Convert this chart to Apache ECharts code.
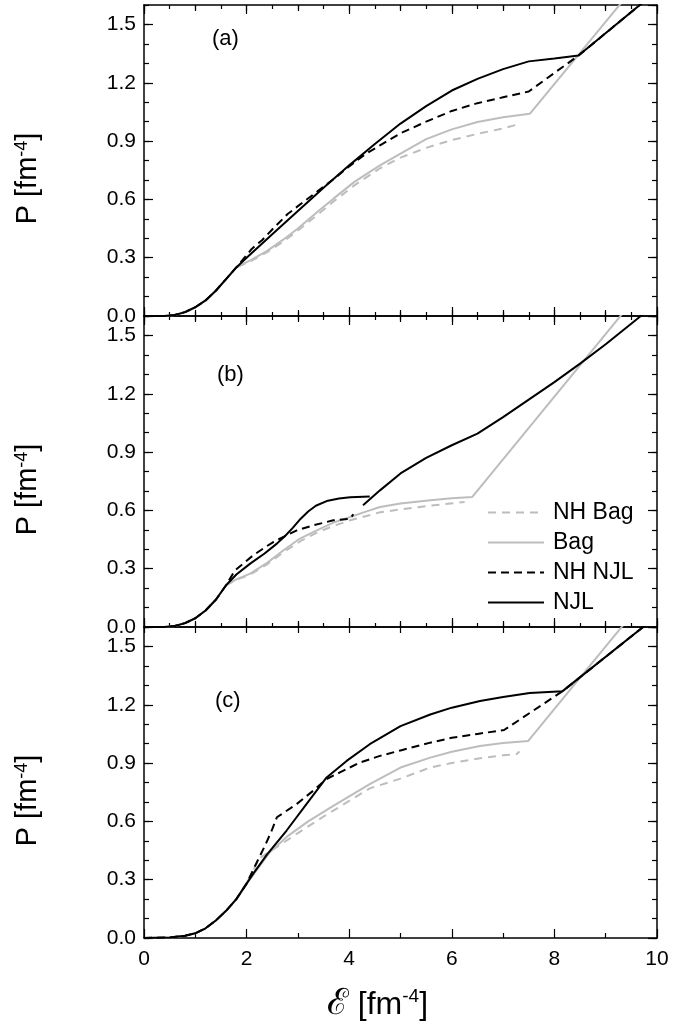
<!DOCTYPE html>
<html>
<head>
<meta charset="utf-8">
<script src="https://cdn.jsdelivr.net/npm/echarts@6/dist/echarts.min.js"></script>
<style>
  html, body { margin: 0; padding: 0; background: #fff; }
  #chart { width: 673px; height: 1030px; }
</style>
</head>
<body>
<div id="chart"></div>
<script>
const FONT = '"Liberation Sans", Arial, Helvetica, sans-serif';

// ---- panel (a) ----
const aLowX = [0, 0.4, 0.6, 0.8, 1.0, 1.2, 1.4, 1.6, 1.8];
const aLowY = [0, 0, 0.005, 0.02, 0.045, 0.08, 0.13, 0.19, 0.25];
const aNJLX = [2.0, 2.5, 3.0, 3.5, 4.0, 4.5, 5.0, 5.5, 6.0, 6.5, 7.0, 7.5, 8.0, 8.47, 10];
const aNJLY = [0.3, 0.42, 0.54, 0.66, 0.775, 0.885, 0.99, 1.08, 1.16, 1.22, 1.27, 1.31, 1.325, 1.34, 1.673];
const aNHNJLX = [2.1, 2.3, 2.5, 2.8, 3.1, 3.4, 3.7, 4.0, 4.3, 4.6, 5.0, 5.5, 6.0, 6.5, 7.0, 7.5, 8.47, 10];
const aNHNJLY = [0.345, 0.39, 0.445, 0.525, 0.585, 0.645, 0.705, 0.77, 0.83, 0.878, 0.94, 1.0, 1.055, 1.095, 1.125, 1.155, 1.34, 1.673];
const aBagX = [2.1, 2.4, 2.7, 3.0, 3.4, 3.7, 4.1, 4.6, 5.0, 5.5, 6.0, 6.5, 7.0, 7.52, 10];
const aBagY = [0.29, 0.335, 0.39, 0.45, 0.54, 0.605, 0.69, 0.775, 0.835, 0.91, 0.96, 0.998, 1.022, 1.04, 1.834];
const aNHBagX = [2.1, 2.4, 2.7, 3.0, 3.4, 3.7, 4.1, 4.6, 5.0, 5.5, 6.0, 6.5, 7.0, 7.35];
const aNHBagY = [0.285, 0.328, 0.38, 0.44, 0.525, 0.59, 0.672, 0.76, 0.815, 0.865, 0.905, 0.937, 0.965, 0.99];

// ---- panel (b) ----
const bLowX = [0, 0.4, 0.6, 0.8, 1.0, 1.2, 1.4, 1.6];
const bLowY = [0, 0, 0.005, 0.02, 0.045, 0.085, 0.14, 0.215];
const bNJLX = [1.8, 2.07, 2.35, 2.59, 2.75, 2.9, 3.05, 3.2, 3.35, 3.56, 3.8, 4.02, 4.4];
const bNJLY = [0.27, 0.326, 0.378, 0.429, 0.468, 0.51, 0.556, 0.594, 0.624, 0.648, 0.661, 0.668, 0.672];
const bNJL2X = [4.27, 4.6, 5.0, 5.5, 6.0, 6.5, 7.0, 7.5, 8.0, 8.5, 9.0, 9.66, 10];
const bNJL2Y = [0.626, 0.703, 0.79, 0.87, 0.935, 0.995, 1.08, 1.17, 1.26, 1.355, 1.455, 1.595, 1.67];
const bNHNJLX = [1.77, 1.95, 2.13, 2.33, 2.52, 2.72, 2.98, 3.3, 3.69, 4.02, 4.08];
const bNHNJLY = [0.29, 0.33, 0.369, 0.405, 0.437, 0.464, 0.497, 0.523, 0.549, 0.557, 0.58];
const bBagX = [1.8, 2.07, 2.4, 2.72, 3.04, 3.37, 3.69, 4.02, 4.34, 4.6, 5.0, 5.58, 6.0, 6.4, 10];
const bBagY = [0.245, 0.275, 0.33, 0.395, 0.455, 0.497, 0.537, 0.566, 0.595, 0.617, 0.635, 0.652, 0.662, 0.669, 1.83];
const bNHBagX = [1.8, 2.07, 2.4, 2.72, 3.04, 3.37, 3.69, 4.02, 4.6, 5.0, 5.6, 6.25];
const bNHBagY = [0.243, 0.27, 0.322, 0.385, 0.44, 0.485, 0.52, 0.549, 0.59, 0.605, 0.625, 0.643];

// ---- panel (c) ----
const cLowX = [0, 0.5, 0.8, 1.0, 1.2, 1.4, 1.6, 1.8, 2.0];
const cLowY = [0, 0.003, 0.012, 0.024, 0.05, 0.09, 0.14, 0.2, 0.28];
const cNJLX = [2.13, 2.4, 2.78, 3.17, 3.56, 3.95, 4.4, 5.0, 5.58, 6.0, 6.55, 7.0, 7.52, 8.16, 10];
const cNJLY = [0.331, 0.43, 0.553, 0.69, 0.826, 0.911, 0.997, 1.09, 1.15, 1.185, 1.219, 1.24, 1.261, 1.27, 1.657];
const cNHNJLX = [2.2, 2.36, 2.49, 2.59, 2.98, 3.3, 3.56, 3.82, 4.21, 4.6, 5.0, 5.58, 6.0, 6.5, 7.02, 8.16, 10];
const cNHNJLY = [0.39, 0.476, 0.553, 0.621, 0.69, 0.758, 0.818, 0.852, 0.903, 0.937, 0.965, 1.005, 1.03, 1.05, 1.07, 1.27, 1.657];
const cBagX = [2.2, 2.45, 2.78, 3.2, 3.69, 4.4, 5.0, 5.58, 6.0, 6.55, 7.0, 7.49, 10];
const cBagY = [0.35, 0.44, 0.52, 0.6, 0.68, 0.792, 0.877, 0.928, 0.958, 0.988, 1.003, 1.014, 1.822];
const cNHBagX = [2.25, 2.6, 3.0, 3.5, 4.0, 4.4, 5.0, 5.58, 6.0, 6.55, 7.0, 7.26, 7.32];
const cNHBagY = [0.41, 0.47, 0.54, 0.625, 0.705, 0.77, 0.82, 0.877, 0.9, 0.925, 0.94, 0.945, 0.96];

const legendNames = ['NH Bag', 'Bag', 'NH NJL', 'NJL'];
const panelLabels = ['(a)', '(b)', '(c)'];

const lineLook = {
  'NH Bag': { color: '#bdbdbd', type: [8, 6] },
  'Bag': { color: '#bdbdbd', type: 'solid' },
  'NH NJL': { color: '#000', type: [8, 5] },
  'NJL': { color: '#000', type: 'solid' }
};

const pts = (xs, ys) => xs.map((x, i) => [x, ys[i]]);

const gridTops = [5, 316, 627];
const GRID_H = 311;

// axes
const xAxes = [];
const yAxes = [];
const xBase = [];
const yBase = [];
const axisLine = { show: true, onZero: false, lineStyle: { color: '#000', width: 1.5 } };
const tickLine = { color: '#000', width: 1.2 };

for (let p = 0; p < 3; p++) {
  xBase.push(xAxes.length);
  const last = p === 2;
  // bottom main
  xAxes.push({
    type: 'value', gridIndex: p, position: 'bottom', min: 0, max: 10, interval: 2,
    axisLine: axisLine,
    axisTick: { inside: true, length: 9, lineStyle: tickLine },
    minorTick: { show: true, splitNumber: last ? 2 : 4, length: last ? 5 : 4, lineStyle: tickLine },
    splitLine: { show: false },
    axisLabel: { show: last, margin: 11, fontSize: 21, fontFamily: FONT, color: '#000' },
    name: last ? '{e|ℰ} [fm{sup|-4}]' : '',
    nameLocation: 'middle', nameGap: 49,
    nameTextStyle: {
      fontSize: 32, fontFamily: FONT, color: '#000', padding: [0, 46, 0, 0],
      rich: {
        e: { fontSize: 36, fontFamily: '"DejaVu Serif", serif', color: '#000' },
        sup: { fontSize: 19, verticalAlign: 'top', color: '#000', fontFamily: FONT }
      }
    }
  });
  if (!last) {
    xAxes.push({
      type: 'value', gridIndex: p, position: 'bottom', min: 0, max: 10, interval: 1,
      axisLine: { show: false, onZero: false },
      axisTick: { inside: true, length: 6, lineStyle: tickLine },
      splitLine: { show: false }, axisLabel: { show: false }
    });
  }
  // top
  xAxes.push({
    type: 'value', gridIndex: p, position: 'top', min: 0, max: 10, interval: last ? 1 : 2,
    axisLine: axisLine,
    axisTick: { inside: true, length: last ? 6 : 9, lineStyle: tickLine },
    minorTick: { show: !last, splitNumber: 4, length: 4, lineStyle: tickLine },
    splitLine: { show: false }, axisLabel: { show: false }
  });
  if (!last) {
    xAxes.push({
      type: 'value', gridIndex: p, position: 'top', min: 0, max: 10, interval: 1,
      axisLine: { show: false, onZero: false },
      axisTick: { inside: true, length: 6, lineStyle: tickLine },
      splitLine: { show: false }, axisLabel: { show: false }
    });
  }

  yBase.push(yAxes.length);
  ['left', 'right'].forEach(function (side) {
    yAxes.push({
      type: 'value', gridIndex: p, position: side, min: 0, max: 1.6, interval: 0.3,
      axisLine: axisLine,
      axisTick: { inside: true, length: 9, lineStyle: tickLine },
      splitLine: { show: false },
      axisLabel: {
        show: side === 'left', margin: 8, fontSize: 21, fontFamily: FONT, color: '#000',
        showMaxLabel: false,
        formatter: function (v) { return v > 1.55 ? '' : v.toFixed(1); }
      },
      name: side === 'left' ? 'P [fm{sup|-4}]' : '',
      nameLocation: 'middle', nameGap: 102,
      nameTextStyle: {
        fontSize: 29, fontFamily: FONT, color: '#000', padding: [0, 36, 0, 0],
        rich: { sup: { fontSize: 18, verticalAlign: 'top', color: '#000', fontFamily: FONT } }
      }
    });
    yAxes.push({
      type: 'value', gridIndex: p, position: side, min: 0, max: 1.6, interval: 0.1,
      axisLine: { show: false, onZero: false },
      axisTick: { inside: true, length: 5, lineStyle: tickLine },
      splitLine: { show: false }, axisLabel: { show: false }
    });
  });
}

const series = [];
function addLine(name, p, low, xs, ys) {
  const data = (low ? pts(low[0], low[1]) : []).concat(pts(xs, ys));
  series.push({
    name: name, type: 'line', xAxisIndex: xBase[p], yAxisIndex: yBase[p],
    data: data, symbol: 'none', smooth: false, clip: true,
    lineStyle: { color: lineLook[name].color, type: lineLook[name].type, width: 2 },
    itemStyle: { color: lineLook[name].color },
    emphasis: { disabled: true }
  });
}

const aLow = [aLowX, aLowY], bLow = [bLowX, bLowY], cLow = [cLowX, cLowY];
addLine('NH Bag', 0, aLow, aNHBagX, aNHBagY);
addLine('Bag', 0, aLow, aBagX, aBagY);
addLine('NH NJL', 0, aLow, aNHNJLX, aNHNJLY);
addLine('NJL', 0, aLow, aNJLX, aNJLY);

addLine('NH Bag', 1, bLow, bNHBagX, bNHBagY);
addLine('Bag', 1, bLow, bBagX, bBagY);
addLine('NH NJL', 1, bLow, bNHNJLX, bNHNJLY);
addLine('NJL', 1, bLow, bNJLX, bNJLY);
addLine('NJL', 1, null, bNJL2X, bNJL2Y);

addLine('NH Bag', 2, cLow, cNHBagX, cNHBagY);
addLine('Bag', 2, cLow, cBagX, cBagY);
addLine('NH NJL', 2, cLow, cNHNJLX, cNHNJLY);
addLine('NJL', 2, cLow, cNJLX, cNJLY);

const labelPos = [[212, 28], [217, 364], [215, 690]];

const chart = echarts.init(document.getElementById('chart'), null, { renderer: 'canvas' });
chart.setOption({
  backgroundColor: '#fff',
  animation: false,
  title: panelLabels.map(function (t, i) {
    return {
      text: t, left: labelPos[i][0], top: labelPos[i][1], padding: 0,
      textStyle: { fontSize: 22, fontWeight: 'normal', fontFamily: FONT, color: '#000' }
    };
  }),
  grid: gridTops.map(function (t) {
    return { left: 144, top: t, width: 513, height: GRID_H, containLabel: false };
  }),
  legend: {
    data: legendNames,
    orient: 'vertical', left: 482, top: 496,
    itemWidth: 56, itemHeight: 14, itemGap: 7,
    selectedMode: false,
    itemStyle: { opacity: 0 },
    textStyle: { fontSize: 23, fontFamily: FONT, color: '#000', padding: [0, 0, 0, 4] }
  },
  xAxis: xAxes,
  yAxis: yAxes,
  series: series
});
</script>
</body>
</html>
